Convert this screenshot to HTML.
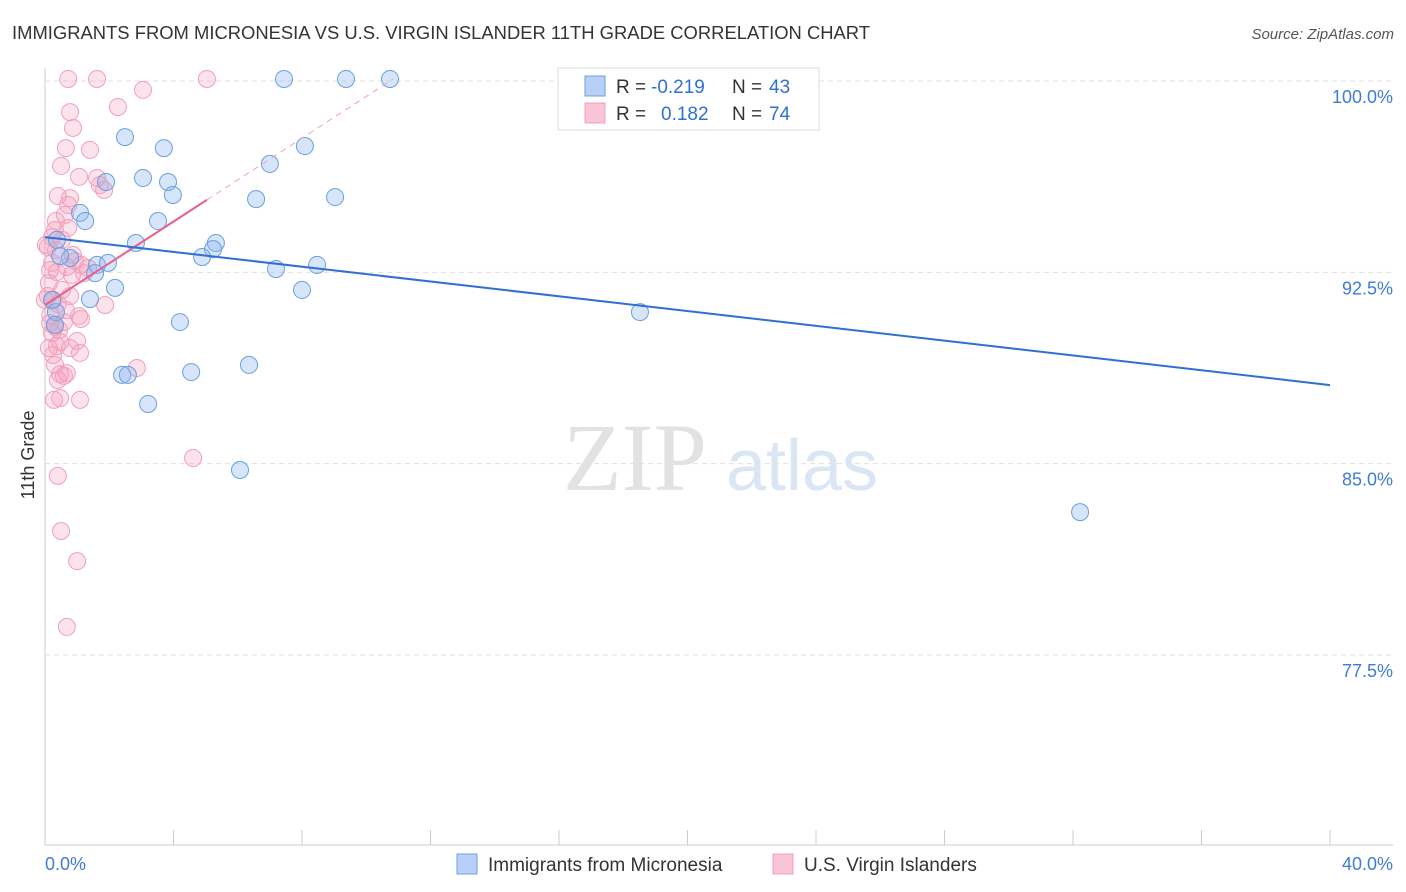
<!DOCTYPE html>
<html><head><meta charset="utf-8">
<style>
body{margin:0;background:#fff;font-family:"Liberation Sans",sans-serif;}
#wrap{position:relative;width:1406px;height:892px;overflow:hidden;}
</style></head>
<body>
<div id="wrap">
<svg id="chart" width="1406" height="892" xmlns="http://www.w3.org/2000/svg">
<text x="12" y="39" font-size="18" fill="#333" textLength="858" lengthAdjust="spacingAndGlyphs">IMMIGRANTS FROM MICRONESIA VS U.S. VIRGIN ISLANDER 11TH GRADE CORRELATION CHART</text>
<text x="1394" y="39" font-size="15" fill="#555" font-style="italic" text-anchor="end">Source: ZipAtlas.com</text>
<text x="34" y="455" font-size="18" fill="#333" transform="rotate(-90 34 455)" text-anchor="middle">11th Grade</text>
<g>
<text x="635" y="490" font-size="96" fill="#e2e2e2" font-family="Liberation Serif,serif" text-anchor="middle">ZIP</text>
<text x="802" y="490" font-size="72" fill="#dbe6f5" text-anchor="middle">atlas</text>
</g>
<g id="grid"></g><g id="axes"></g><g id="marks"></g>
<g>
<rect x="558" y="68" width="261" height="62" fill="#fff" stroke="#ddd"/>
<rect x="585" y="76" width="20" height="20" fill="#b8d0f5" stroke="#6a9fe0"/>
<rect x="585" y="103" width="20" height="20" fill="#f9c4d6" stroke="#f0a0bc"/>
<text x="616" y="93" font-size="19" fill="#333">R = </text>
<text x="651" y="93" font-size="19" fill="#2f6fd6">-0.219</text>
<text x="732" y="93" font-size="19" fill="#333">N = </text>
<text x="769" y="93" font-size="19" fill="#2f6fd6">43</text>
<text x="616" y="120" font-size="19" fill="#333">R = </text>
<text x="661" y="120" font-size="19" fill="#2f6fd6">0.182</text>
<text x="732" y="120" font-size="19" fill="#333">N = </text>
<text x="769" y="120" font-size="19" fill="#2f6fd6">74</text>
</g>
<g>
<rect x="457" y="854" width="20" height="20" fill="#b8d0f5" stroke="#6a9fe0"/>
<text x="488" y="871" font-size="19" fill="#333">Immigrants from Micronesia</text>
<rect x="773" y="854" width="20" height="20" fill="#f9c4d6" stroke="#f0a0bc"/>
<text x="804" y="871" font-size="19" fill="#333">U.S. Virgin Islanders</text>
</g>
</svg>
</div>
<script>
const yTicks=[100,92.5,85,77.5];
const yTickLabels=["100.0%","92.5%","85.0%","77.5%"];
const xTickLabels=["0.0%","40.0%"];
const blueX=[7.44,9.37,10.74,2.49,3.70,8.09,7.00,3.05,3.83,1.90,3.98,6.57,9.03,1.09,1.25,3.52,2.83,5.32,5.23,4.89,0.78,1.62,1.96,7.19,8.47,1.56,2.18,8.00,1.40,4.20,18.52,0.34,0.31,6.35,2.40,2.58,4.55,3.21,6.07,32.22,0.37,0.47,0.22];
const blueY=[100.08,100.08,100.08,97.80,97.37,97.45,96.75,96.20,96.04,96.04,95.53,95.37,95.45,94.83,94.51,94.51,93.65,93.65,93.41,93.10,93.06,92.79,92.87,92.63,92.79,92.47,91.89,91.81,91.45,90.55,90.94,90.94,90.44,88.87,88.48,88.48,88.59,87.34,84.75,83.10,93.77,93.14,91.42];
const pinkX=[0.72,1.62,5.04,3.05,2.27,0.78,0.87,1.40,0.65,0.50,1.62,1.06,1.84,0.40,0.78,0.62,0.34,0.72,0.22,0.53,0.09,0.93,0.22,0.68,0.37,1.12,0.84,1.21,0.12,0.09,0.25,0.78,0.40,1.87,1.06,1.12,0.59,0.16,0.31,0.44,0.22,1.00,0.47,0.37,0.12,1.09,0.25,0.78,0.31,2.86,0.47,0.59,0.40,0.68,0.28,0.47,1.09,4.61,0.40,0.50,1.00,0.68,0.34,0.16,0.53,0.87,0.00,1.34,0.16,0.65,0.31,0.72,1.71,0.03];
const pinkY=[100.08,100.08,100.08,99.65,98.98,98.78,98.16,97.30,97.37,96.67,96.20,96.24,95.73,95.49,95.41,94.75,94.51,94.24,93.88,93.77,93.49,92.94,92.87,92.71,92.51,92.79,92.40,92.47,92.08,91.57,91.42,91.57,91.26,91.22,90.79,90.67,90.55,90.51,90.36,90.24,90.12,89.81,89.77,89.61,89.53,89.34,89.26,89.53,88.87,88.75,88.51,88.44,88.28,88.55,87.50,87.57,87.50,85.22,84.52,82.36,81.18,78.60,93.37,92.59,91.81,93.18,91.42,92.67,90.83,91.02,94.16,95.14,95.92,93.57];
const blueTrend=[93.88,88.08];
const pinkTrend=[91.22,95.34];
const pinkTrendEnd=5.04;

const NS="http://www.w3.org/2000/svg";
const X0=45,X1=1330,XMAX=40,Y100=81,PXPER=25.51;
const sx=v=>X0+v/XMAX*(X1-X0);
const sy=v=>Y100+(100-v)*PXPER;
function mk(tag,attrs,parent){const e=document.createElementNS(NS,tag);for(const k in attrs)e.setAttribute(k,attrs[k]);parent.appendChild(e);return e;}
const grid=document.getElementById('grid'),axes=document.getElementById('axes'),marks=document.getElementById('marks');
yTicks.forEach((t,i)=>{
 const l=mk('line',{x1:45,x2:1393,y1:sy(t),y2:sy(t),stroke:'#e0e0e0','stroke-dasharray':'5,4'},grid);
 
 
 const tx=mk('text',{x:1393,y:sy(t)+22,'font-size':18,fill:'#3f7bd8','text-anchor':'end'},axes);
 tx.textContent=yTickLabels[i];
 
 
});
const ax=mk('line',{x1:45,x2:45,y1:68,y2:845,stroke:'#ccc'},axes);


const bx=mk('line',{x1:45,x2:1393,y1:845,y2:845,stroke:'#ccc'},axes);


for(let i=1;i<=10;i++){
 const t=mk('line',{x1:sx(i*4),x2:sx(i*4),y1:830,y2:845,stroke:'#ccc'},axes);
 
 
}
const xl0=mk('text',{x:45,y:870,'font-size':18,fill:'#3f7bd8'},axes);xl0.textContent=xTickLabels[0];


const xl1=mk('text',{x:1393,y:870,'font-size':18,fill:'#3f7bd8','text-anchor':'end'},axes);xl1.textContent=xTickLabels[1];



pinkX.forEach((x,i)=>{
 const c=mk('circle',{cx:sx(x),cy:sy(pinkY[i]),r:8.5,fill:'rgba(245,160,190,0.3)',stroke:'#f0a0bc','stroke-width':1},marks);
 
 
});
blueX.forEach((x,i)=>{
 const c=mk('circle',{cx:sx(x),cy:sy(blueY[i]),r:8.5,fill:'rgba(140,180,240,0.35)',stroke:'#6a9fe0','stroke-width':1},marks);
 
 
});
const slope=(pinkTrend[1]-pinkTrend[0])/pinkTrendEnd;
const xEndDash=(100.08-pinkTrend[0])/slope;
const pd=mk('line',{x1:sx(pinkTrendEnd),y1:sy(pinkTrend[1]),x2:sx(xEndDash),y2:sy(100.08),stroke:'#f0a0bc','stroke-width':1,'stroke-dasharray':'6,5'},marks);


const pl=mk('line',{x1:sx(0),y1:sy(pinkTrend[0]),x2:sx(pinkTrendEnd),y2:sy(pinkTrend[1]),stroke:'#e8608c','stroke-width':2},marks);


const bl=mk('line',{x1:sx(0),y1:sy(blueTrend[0]),x2:sx(40),y2:sy(blueTrend[1]),stroke:'#2f6fd6','stroke-width':2},marks);


</script>
</body></html>
